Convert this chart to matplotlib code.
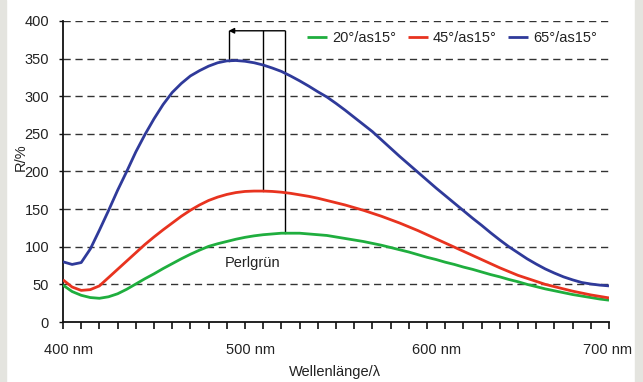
import matplotlib
matplotlib.use("Agg")
import matplotlib.pyplot as plt
from matplotlib.transforms import ScaledTranslation
from matplotlib.patches import Rectangle

plt.rcParams['font.family'] = ['Liberation Sans', 'DejaVu Sans']

# ---- data ----
wl = [400, 405, 410, 415, 420, 425, 430, 435, 440, 445, 450, 455, 460, 465, 470, 475,
      480, 485, 490, 495, 500, 505, 510, 515, 520, 525, 530, 535, 540, 545, 550, 555,
      560, 565, 570, 575, 580, 585, 590, 595, 600, 605, 610, 615, 620, 625, 630, 635,
      640, 645, 650, 655, 660, 665, 670, 675, 680, 685, 690, 695, 700]
r20 = [49, 40.5, 35.5, 32.5, 31.5, 33.5, 37.5, 43.5, 50.5, 57.5, 64, 71, 77.5, 84, 90, 95.5,
       100.5, 104, 107, 110, 112.5, 114.5, 116, 117, 118, 118, 118, 117, 116, 115, 113, 111,
       109, 107, 104.5, 102, 99, 96, 93, 89.5, 86, 83, 79.5, 76.5, 73, 70, 66.5, 63,
       60, 56.5, 53.5, 50, 47, 44, 41.5, 39, 36.5, 34.5, 32.5, 30.5, 29]
r45 = [56, 46.5, 42, 43, 48, 59, 70, 81, 92, 103, 113, 122.5, 131.5, 140.5, 148.5, 155.5,
       161.5, 166, 169.5, 172, 173.5, 174, 174, 173.5, 172.5, 171, 169, 167, 164.5, 161.5, 158.5, 155.5,
       152, 148.5, 144.5, 140.5, 136, 131.5, 126.5, 121.5, 116, 110.5, 105, 99.5, 94, 88.5, 83, 77.5,
       72, 67, 62, 58, 54, 50, 47, 44, 41, 38.5, 36, 34, 32]
r65 = [80, 76.5, 79, 97, 122, 148, 175, 200, 226, 249, 270, 289, 305, 317, 327, 334,
       340, 344.5, 347, 347.5, 346.5, 344.5, 341.5, 337.5, 333, 327, 320.5, 313.5, 306, 299, 290.5, 281.5,
       272, 262.5, 253, 242, 231, 220, 209.5, 199, 188.5, 178, 168, 158, 148, 138, 128.5, 118.5,
       109, 100, 92, 84, 77, 70.5, 65, 60, 56, 52.5, 50.5, 49, 48]
series_labels = ['20°/as15°', '45°/as15°', '65°/as15°']
series_colors = ['#1fae3e', '#e8331f', '#2f3a9a']

peak_wl = [491, 510, 522]          # blue, red, green peak positions
peak_val = [347, 174, 118]
marker_level = 387
note_text = 'Perlgrün'
note_pos = (504, 79)

x_ticks = [400, 500, 600, 700]
x_tick_labels = ['400 nm', '500 nm', '600 nm', '700 nm']
y_ticks = [0, 50, 100, 150, 200, 250, 300, 350, 400]
x_label = 'Wellenlänge/λ'
y_label = 'R/%'

FS = 10.5

# ---- figure ----
W, H = 643, 382
fig = plt.figure(figsize=(W / 100, H / 100), dpi=100)
fig.patch.set_facecolor('white')
bg = '#e4e4df'
fig.add_artist(Rectangle((0, 0), 5.5 / W, 1, transform=fig.transFigure, color=bg, zorder=0))
fig.add_artist(Rectangle((635 / W, 0), 8 / W, 1, transform=fig.transFigure, color=bg, zorder=0))

ax = fig.add_axes([63 / W, 1 - 322 / H, (609 - 63) / W, (322 - 21) / H])
ax.set_xlim(400, 700)
ax.set_ylim(0, 400)

for s in ['top', 'right']:
    ax.spines[s].set_visible(False)
for s in ['left', 'bottom']:
    ax.spines[s].set_linewidth(1.3)
    ax.spines[s].set_color('#111111')

# dashed gridlines
for yv in y_ticks[1:]:
    ax.axhline(yv, color='#333333', lw=1.0, dashes=(5.2, 3.4), zorder=1)

# annotation lines
for pw, pv in zip(peak_wl, peak_val):
    ax.plot([pw, pw], [pv, marker_level], color='black', lw=1.0, zorder=2)
ax.annotate('', xy=(peak_wl[0], marker_level), xytext=(peak_wl[2], marker_level),
            arrowprops=dict(arrowstyle='-|>', color='black', lw=1.0,
                            mutation_scale=8, shrinkA=0, shrinkB=0), zorder=2)

lines = []
for vals, lab, col in zip([r20, r45, r65], series_labels, series_colors):
    ln, = ax.plot(wl, vals, color=col, lw=2.0, label=lab, zorder=3,
                  solid_capstyle='butt', solid_joinstyle='round')
    lines.append(ln)

ax.text(note_pos[0], note_pos[1], note_text, ha='center', va='center', fontsize=FS,
        color='#222222')

leg = ax.legend(handles=lines, ncol=3, frameon=False, loc='center left',
                bbox_to_anchor=(0.447, 0.9435), borderpad=0, borderaxespad=0,
                handlelength=1.4, handletextpad=0.35, columnspacing=0.75,
                fontsize=FS)
for t in leg.get_texts():
    t.set_color('#222222')

# ticks
ax.set_xticks(x_ticks)
ax.set_xticklabels(x_tick_labels, fontsize=FS, color='#222222')
ax.set_xticks(range(400, 701, 10), minor=True)
ax.tick_params(axis='x', which='both', direction='out', length=5, width=1.2,
               color='#111111', pad=10)
ax.set_yticks(y_ticks)
ax.set_yticklabels([str(v) for v in y_ticks], fontsize=FS, color='#222222')
ax.tick_params(axis='y', which='both', direction='out', length=3, width=1.0,
               color='#111111', pad=7)

offs = [6, 6, 10, -1]
for lbl, o in zip(ax.get_xticklabels(), offs):
    lbl.set_transform(lbl.get_transform() + ScaledTranslation(o / 100, 0, fig.dpi_scale_trans))

fig.text(335 / W, 1 - 372 / H, x_label, ha='center', va='center', fontsize=FS, color='#222222')
fig.text(21 / W, 1 - 157 / H, y_label, ha='center', va='center', fontsize=FS,
         rotation=90, color='#222222')

fig.savefig('out.png', dpi=100)
